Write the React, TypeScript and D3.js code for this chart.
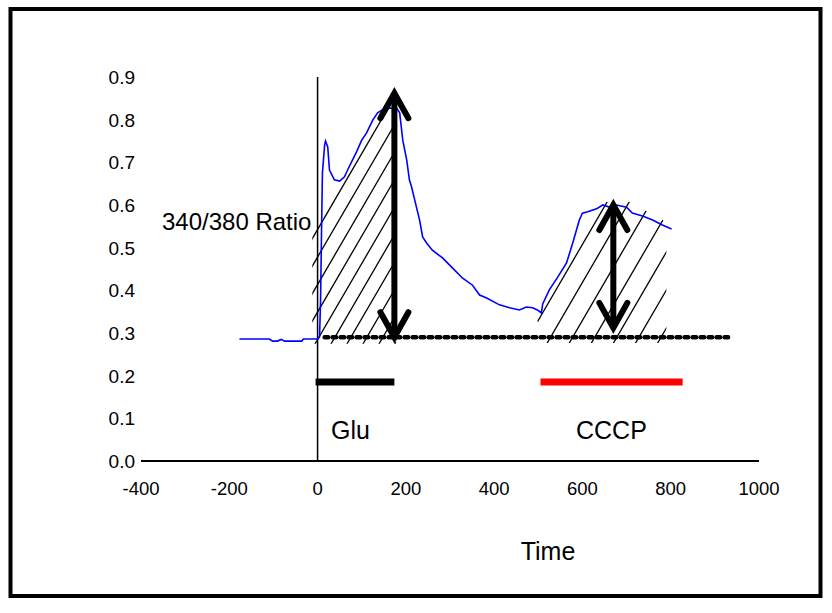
import React from "react";
import * as d3 from "d3";

// ---- data ----
const traceTime = [-177, -109, -102, -91, -82, -75, -36, -32, 0, 4.5, 6.8, 9, 11, 16, 18, 23, 27, 38, 50, 61, 68, 79, 88, 100, 111, 125, 136, 147, 163, 179, 186, 193, 202, 208, 213, 220, 231, 238, 247, 260, 283, 306, 328, 351, 367, 383, 412, 435, 457, 473, 487, 498, 507, 510, 525, 544, 564, 578, 593, 600, 612, 632, 646, 661, 677, 700, 713, 736, 759, 781, 802];
const traceRatio = [0.286, 0.286, 0.281, 0.281, 0.285, 0.281, 0.281, 0.286, 0.286, 0.291, 0.377, 0.541, 0.675, 0.741, 0.75, 0.736, 0.682, 0.659, 0.656, 0.666, 0.682, 0.705, 0.724, 0.752, 0.769, 0.799, 0.816, 0.823, 0.827, 0.827, 0.816, 0.752, 0.705, 0.659, 0.642, 0.612, 0.565, 0.525, 0.511, 0.494, 0.476, 0.452, 0.429, 0.412, 0.389, 0.382, 0.366, 0.359, 0.354, 0.361, 0.359, 0.354, 0.347, 0.368, 0.401, 0.431, 0.464, 0.511, 0.565, 0.581, 0.584, 0.591, 0.6, 0.595, 0.6, 0.595, 0.581, 0.574, 0.565, 0.553, 0.544];

const xTicks = [-400, -200, 0, 200, 400, 600, 800, 1000];
const yTicks = [0, 0.1, 0.2, 0.3, 0.4, 0.5, 0.6, 0.7, 0.8, 0.9];

const baselineLevel = 0.29;
const baselineSpan = [16, 933];
const gluBar = [-4.5, 174];
const cccpBar = [505, 827];
const barLevel = 0.185;

const gluArrow = { t: 174, top: 0.862, bottom: 0.29 };
const cccpArrow = { t: 670, top: 0.6, bottom: 0.312 };

const gluHatchPoly: [number, number][] = [[-12, 0.53], [157, 0.835], [178, 0.835], [178, 0.275], [-12, 0.275]];
const cccpHatchPoly: [number, number][] = [[496, 0.333], [648, 0.607], [707, 0.607], [790, 0.56], [790, 0.2765], [519, 0.2765]];
const gluHatchAnchor: [number, number] = [-7, 0.53];
const cccpHatchAnchor: [number, number] = [503, 0.335];

const W = 832;
const H = 613;

const x = d3.scaleLinear().domain([-400, 1000]).range([141, 759]);
const y = d3.scaleLinear().domain([0, 0.9]).range([461, 77]);

const FONT = "'Liberation Sans', Arial, sans-serif";

function hatchLines(anchor: [number, number], spacing: number, slope: number, x0: number, x1: number, id: string) {
  const ax = x(anchor[0]);
  const ay = y(anchor[1]);
  const lines = [];
  for (let k = -20; k <= 20; k++) {
    const y0 = ay + k * spacing + slope * (x0 - ax);
    const y1 = ay + k * spacing + slope * (x1 - ax);
    lines.push(<line key={id + k} x1={x0} y1={y0} x2={x1} y2={y1} stroke="#000" strokeWidth={1.3} />);
  }
  return lines;
}

function Arrow({ t, top, bottom }: { t: number; top: number; bottom: number }) {
  const cx = x(t);
  const yt = y(top);
  const yb = y(bottom);
  const hw = 14;
  const hl = 25;
  return (
    <g stroke="#000" strokeWidth={6} fill="none" strokeLinecap="round" strokeLinejoin="miter">
      <line x1={cx} y1={yt + 3} x2={cx} y2={yb - 3} strokeLinecap="butt" />
      <path d={`M${cx - hw},${yt + hl} L${cx},${yt} L${cx + hw},${yt + hl}`} />
      <path d={`M${cx - hw},${yb - hl} L${cx},${yb} L${cx + hw},${yb - hl}`} />
    </g>
  );
}

export default function App() {
  const line = d3
    .line<number>()
    .x((_, i) => x(traceTime[i]))
    .y((d) => y(d));
  const poly = (p: [number, number][]) => p.map(([a, b]) => `${x(a)},${y(b)}`).join(" ");

  return (
    <svg width={W} height={H} style={{ position: "absolute", left: 0, top: 0, background: "#fff" }} fontFamily={FONT}>
      <rect x={0} y={0} width={W} height={H} fill="#fff" />
      <rect x={10.5} y={9} width={810} height={587} fill="none" stroke="#000" strokeWidth={4} />
      <defs>
        <clipPath id="gluClip">
          <polygon points={poly(gluHatchPoly)} />
        </clipPath>
        <clipPath id="cccpClip">
          <polygon points={poly(cccpHatchPoly)} />
        </clipPath>
      </defs>

      {/* axes */}
      <line x1={x(-400)} x2={x(1000)} y1={y(0)} y2={y(0)} stroke="#000" strokeWidth={2} />
      <line x1={x(0)} x2={x(0)} y1={y(0)} y2={y(0.9)} stroke="#000" strokeWidth={1.5} />

      {yTicks.map((v) => (
        <text key={"y" + v} x={135} y={y(v)} dy="0.36em" textAnchor="end" fontSize={19} fill="#000">
          {v.toFixed(1)}
        </text>
      ))}
      {xTicks.map((t) => (
        <text key={"x" + t} x={x(t)} y={495} textAnchor="middle" fontSize={18.5} fill="#000">
          {t}
        </text>
      ))}

      {/* hatch */}
      <g clipPath="url(#gluClip)">{hatchLines(gluHatchAnchor, 27.5, -1.72, 300, 410, "g")}</g>
      <g clipPath="url(#cccpClip)">{hatchLines(cccpHatchAnchor, 38, -1.72, 520, 680, "c")}</g>

      {/* trace */}
      <path d={line(traceRatio) || ""} fill="none" stroke="#0000FF" strokeWidth={1.6} />

      {/* baseline dashed */}
      <line
        x1={x(baselineSpan[0])}
        x2={x(baselineSpan[1])}
        y1={y(baselineLevel)}
        y2={y(baselineLevel)}
        stroke="#000"
        strokeWidth={4.5}
        strokeDasharray="3.5 4.5"
        strokeLinecap="round"
      />

      {/* bars */}
      <line x1={x(gluBar[0])} x2={x(gluBar[1])} y1={y(barLevel)} y2={y(barLevel)} stroke="#000" strokeWidth={7} />
      <line x1={x(cccpBar[0])} x2={x(cccpBar[1])} y1={y(barLevel)} y2={y(barLevel)} stroke="#FF0000" strokeWidth={7} />

      <Arrow {...gluArrow} />
      <Arrow {...cccpArrow} />

      {/* labels */}
      <text x={331} y={439} fontSize={25} fill="#000">Glu</text>
      <text x={576} y={439} fontSize={25} fill="#000">CCCP</text>
      <text x={548} y={560} fontSize={25} textAnchor="middle" fill="#000">Time</text>
      <text x={162} y={230} fontSize={24} fill="#000">340/380 Ratio</text>
    </svg>
  );
}
